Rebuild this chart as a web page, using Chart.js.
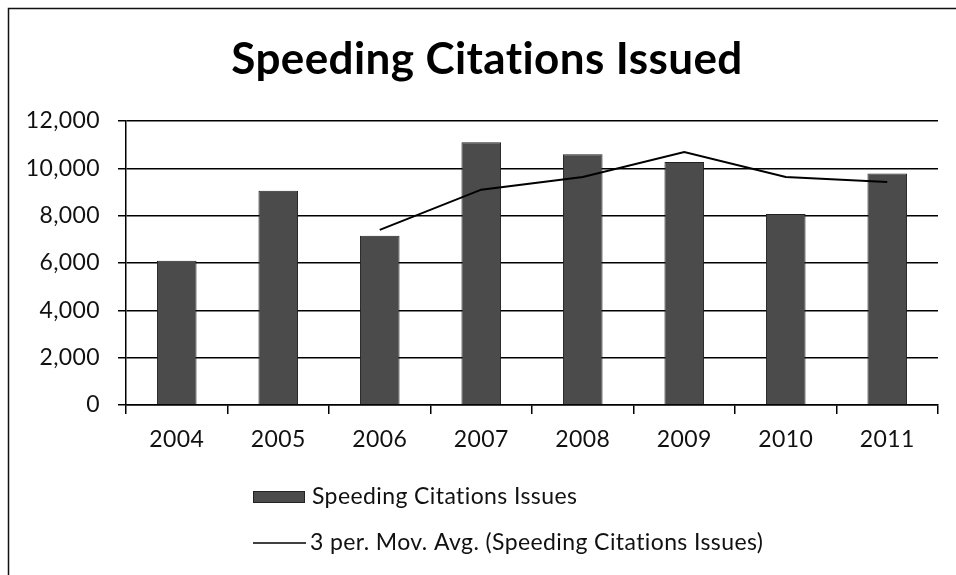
<!DOCTYPE html>
<html>
<head>
<meta charset="utf-8">
<title>Speeding Citations Issued</title>
<script src="https://cdn.jsdelivr.net/npm/chart.js@4"></script>
<style>
  html, body { margin: 0; padding: 0; background: #fff; }
  #wrap { width: 956px; height: 575px; position: relative; }
</style>
</head>
<body>
<div id="wrap"><canvas id="myChart" width="956" height="575"></canvas></div>
<script>
const years = ['2004', '2005', '2006', '2007', '2008', '2009', '2010', '2011'];
const citations = [6100, 9050, 7150, 11100, 10600, 10270, 8070, 9780];
const movAvg = [null, null, 7400, 9100, 9630, 10690, 9630, 9420];
const yTicks = [0, 2000, 4000, 6000, 8000, 10000, 12000];

const chartTitle = 'Speeding Citations Issued';
const barLabel = 'Speeding Citations Issues';
const lineLabel = '3 per. Mov. Avg. (Speeding Citations Issues)';

const fontFamily = 'Lato, "Open Sans", sans-serif';

// page frame, title and legend
const framePlugin = {
  id: 'frame',
  beforeDraw(chart) {
    // a little letter spacing keeps Lato from joining "ti"
    chart.ctx.letterSpacing = '0.4px';
  },
  afterDraw(chart) {
    const ctx = chart.ctx;
    ctx.save();
    ctx.strokeStyle = '#111';
    ctx.lineWidth = 1.5;
    ctx.beginPath();
    ctx.moveTo(8.5, 575);
    ctx.lineTo(8.5, 8.5);
    ctx.lineTo(956, 8.5);
    ctx.stroke();

    // title, centred a bit right of the plot like the original
    ctx.fillStyle = '#000';
    ctx.font = 'bold 44px ' + fontFamily;
    ctx.textAlign = 'center';
    ctx.textBaseline = 'middle';
    ctx.fillText(chartTitle, 487, 60);

    const bars = chart.data.datasets.find(d => d.type === 'bar');
    const line = chart.data.datasets.find(d => d.type === 'line');

    // legend
    const x0 = 253;
    const y1 = chart.chartArea.bottom + 92;
    const y2 = y1 + 46;
    ctx.fillStyle = bars.backgroundColor;
    ctx.fillRect(x0, y1 - 6, 52, 12);
    ctx.strokeStyle = '#222';
    ctx.lineWidth = 1;
    ctx.strokeRect(x0 + 0.5, y1 - 5.5, 51, 11);

    ctx.strokeStyle = '#000';
    ctx.lineWidth = 1.5;
    ctx.beginPath();
    ctx.moveTo(x0, y2);
    ctx.lineTo(x0 + 53, y2);
    ctx.stroke();

    ctx.fillStyle = '#111';
    ctx.font = '23px ' + fontFamily;
    ctx.textAlign = 'left';
    ctx.fillText(bars.label, x0 + 59, y1);
    ctx.fillText(line.label, x0 + 57, y2);
    ctx.restore();
  }
};

window.onload = function() {
  const ctx = document.getElementById('myChart').getContext('2d');
  const myChart = new Chart(ctx, {
    type: 'bar',
    data: {
      labels: years,
      datasets: [{
        type: 'line',
        label: lineLabel,
        data: movAvg,
        borderColor: '#000',
        borderWidth: 2,
        pointRadius: 0,
        tension: 0,
        spanGaps: false,
        order: 0
      }, {
        type: 'bar',
        label: barLabel,
        data: citations,
        backgroundColor: '#4b4b4b',
        borderColor: '#222',
        borderWidth: 1,
        barPercentage: 0.39,
        categoryPercentage: 1.0,
        order: 1
      }]
    },
    options: {
      responsive: false,
      animation: false,
      layout: {
        padding: { left: 0, right: 18, top: 121, bottom: 120 }
      },
      plugins: {
        legend: { display: false },
        tooltip: { enabled: false },
        title: { display: false }
      },
      scales: {
        x: {
          offset: true,
          grid: {
            offset: true,
            drawOnChartArea: false,
            drawTicks: true,
            tickLength: 9,
            color: '#000',
            lineWidth: 1.5
          },
          border: { display: true, color: '#000', width: 1.5 },
          ticks: {
            color: '#111',
            font: { family: fontFamily, size: 23 },
            padding: 12
          },
          afterFit(scale) { scale.height = 50; }
        },
        y: {
          min: 0,
          max: 12000,
          afterBuildTicks(scale) {
            scale.ticks = yTicks.map(v => ({ value: v }));
          },
          grid: {
            color: '#000',
            lineWidth: 1.5,
            drawTicks: true,
            tickLength: 8
          },
          border: { display: true, color: '#000', width: 1.5 },
          ticks: {
            color: '#111',
            font: { family: fontFamily, size: 23 },
            padding: 18,
            callback: v => v.toLocaleString('en-US')
          },
          afterFit(scale) { scale.width = 126; }
        }
      }
    },
    plugins: [framePlugin]
  });
};
</script>
</body>
</html>
